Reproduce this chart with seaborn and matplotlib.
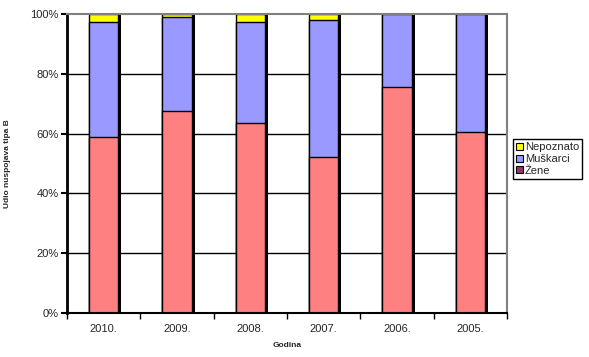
import numpy as np
import pandas as pd
import matplotlib
matplotlib.use("Agg")
import matplotlib.pyplot as plt
import matplotlib.patheffects as pe
from matplotlib.patches import Rectangle
import seaborn as sns

# Data (share in %)
godine = ["2010.", "2009.", "2008.", "2007.", "2006.", "2005."]
zene = [58.7, 67.7, 63.7, 52.3, 75.5, 60.4]
muskarci = [38.6, 31.3, 33.6, 45.7, 24.5, 39.6]
nepoznato = [2.7, 1.0, 2.7, 2.0, 0.0, 0.0]

df = pd.DataFrame({
    "Godina": godine,
    "Zene": zene,
    "Muskarci": muskarci,
    "Nepoznato": nepoznato,
})
df["z"] = df["Zene"]
df["zm"] = df["Zene"] + df["Muskarci"]
df["zmn"] = df["zm"] + df["Nepoznato"]

sns.set_style("white")
plt.rcParams["font.family"] = ["Liberation Sans", "DejaVu Sans"]

fig = plt.figure(figsize=(5.89, 3.57), dpi=100)
ax = fig.add_axes([67 / 589, 44 / 357, 440 / 589, 299 / 357])

# grid lines behind the bars
for v in [20, 40, 60, 80]:
    ax.axhline(v, color="black", lw=1, zorder=0)

shadow = [pe.SimplePatchShadow(offset=(2.2, 0), shadow_rgbFace="black", alpha=1), pe.Normal()]

layers = [("zmn", "#FFFF00"), ("zm", "#9999FF"), ("z", "#FF8080")]
for i, (col, color) in enumerate(layers):
    sns.barplot(data=df, x="Godina", y=col, color=color, width=0.4,
                edgecolor="black", linewidth=1, saturation=1, ax=ax, zorder=2 + i)

for p in ax.patches:
    p.set_path_effects(shadow)

ax.set_xlim(-0.5, 5.5)
ax.set_ylim(0, 100)
ax.set_yticks(np.arange(0, 101, 20))
ax.set_yticklabels([f"{v}%" for v in range(0, 101, 20)], fontsize=8)

ax.set_xticks(np.arange(-0.5, 6, 1))
ax.set_xticklabels([])
ax.set_xticks(np.arange(6), minor=True)
ax.set_xticklabels(godine, minor=True, fontsize=8)
ax.tick_params(axis="x", which="major", direction="out", length=4, width=1, color="black", bottom=True)
ax.tick_params(axis="x", which="minor", length=0, pad=8)
ax.tick_params(axis="y", direction="out", length=4, width=1.5, color="black", left=True, pad=2)

ax.set_xlabel("Godina", fontsize=6, fontweight="bold", labelpad=6)
ax.set_ylabel("Udio nuspojava tipa B", fontsize=6, fontweight="bold")
ax.yaxis.set_label_coords(-0.128, 0.5)

ax.spines["left"].set_color("black")
ax.spines["left"].set_linewidth(2)
ax.spines["bottom"].set_color("black")
ax.spines["bottom"].set_linewidth(1.5)
ax.spines["top"].set_color("gray")
ax.spines["top"].set_linewidth(1.5)
ax.spines["right"].set_color("gray")
ax.spines["right"].set_linewidth(1.5)
for s in ax.spines.values():
    s.set_visible(True)
    s.set_zorder(10)

handles = [
    Rectangle((0, 0), 1, 1, facecolor="#FFFF00", edgecolor="black", lw=0.8),
    Rectangle((0, 0), 1, 1, facecolor="#9999FF", edgecolor="black", lw=0.8),
    Rectangle((0, 0), 1, 1, facecolor="#993366", edgecolor="black", lw=0.8),
]
leg = fig.legend(handles, ["Nepoznato", "Muškarci", "Žene"], loc="upper left",
                 bbox_to_anchor=(513 / 589, 1 - 139 / 357), bbox_transform=fig.transFigure,
                 fontsize=8, frameon=True, fancybox=False, framealpha=1,
                 edgecolor="black", handlelength=0.6, handleheight=0.6,
                 handletextpad=0.15, borderpad=0.3, labelspacing=0.15,
                 borderaxespad=0)
leg.get_frame().set_linewidth(1)

fig.savefig("out.png", dpi=100)
